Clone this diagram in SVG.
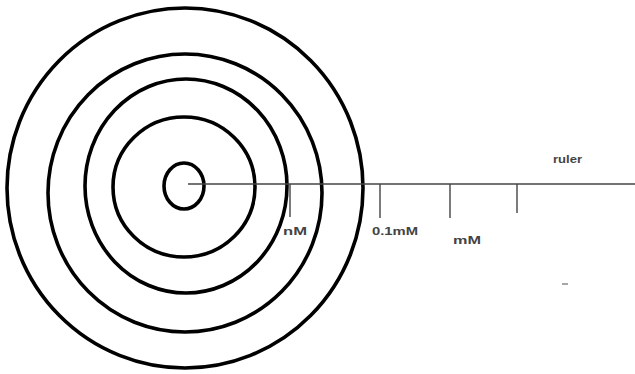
<svg xmlns="http://www.w3.org/2000/svg" width="635" height="374" viewBox="0 0 635 374">
<style>
.ring{fill:none;stroke:#000;stroke-width:3.6}
.rule{stroke:#444;stroke-width:1.4;fill:none}
.lbl{font-family:"Liberation Sans",Arial,sans-serif;font-size:10.5px;font-weight:bold;fill:#444}
</style>
<rect width="635" height="374" fill="#fff"/>
<g id="rings">
<ellipse id="ring5" class="ring" cx="185" cy="188" rx="178" ry="180"/>
<ellipse id="ring4" class="ring" cx="185" cy="193" rx="137" ry="139"/>
<ellipse id="ring3" class="ring" cx="186" cy="186" rx="101" ry="107"/>
<ellipse id="ring2" class="ring" cx="184" cy="187" rx="71" ry="70"/>
<ellipse id="ring1" class="ring" cx="184" cy="186" rx="20" ry="23"/>
</g>
<g id="ruler">
<line class="rule" x1="188" y1="184" x2="635" y2="184"/>
<line class="rule" x1="290" y1="184" x2="290" y2="217"/>
<line class="rule" x1="380" y1="184" x2="380" y2="218"/>
<line class="rule" x1="450" y1="184" x2="450" y2="218"/>
<line class="rule" x1="517" y1="184" x2="517" y2="213"/>
<line x1="562" y1="284" x2="568" y2="284" stroke="#888" stroke-width="1.5"/>
</g>
<g id="labels">
<text class="lbl" x="283" y="235" textLength="24" lengthAdjust="spacingAndGlyphs">nM</text>
<text class="lbl" x="372" y="235" textLength="46" lengthAdjust="spacingAndGlyphs">0.1mM</text>
<text class="lbl" x="453" y="244" textLength="28" lengthAdjust="spacingAndGlyphs">mM</text>
<text class="lbl" x="553" y="163" textLength="29" lengthAdjust="spacingAndGlyphs">ruler</text>
</g>
</svg>
